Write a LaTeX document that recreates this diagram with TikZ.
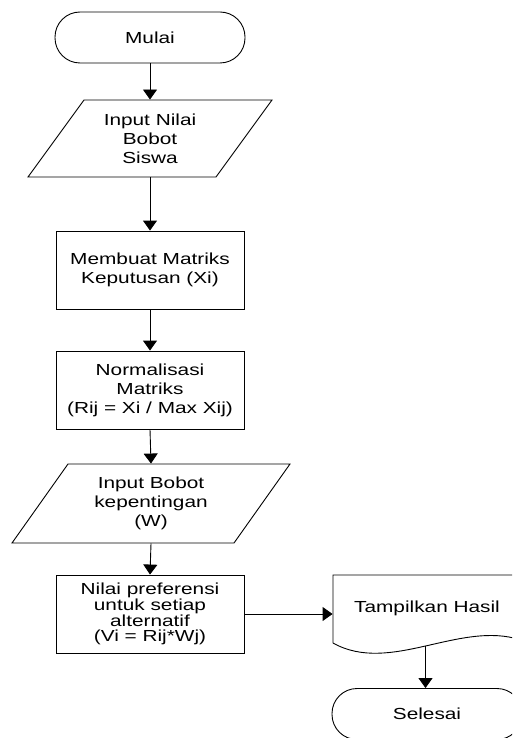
\documentclass[tikz,border=0pt]{standalone}
\usepackage{fontspec}
\setmainfont{Liberation Sans}[FakeStretch=1.3]
\usetikzlibrary{arrows.meta}
\begin{document}
\begin{tikzpicture}[x=1pt,y=-1pt,
  line width=0.9pt,
  txt/.style={align=center,inner sep=0pt,font=\fontsize{16}{19}\selectfont},
  term/.style={txt,draw,rounded corners=25pt,minimum width=190pt,minimum height=51pt},
  procbox/.style={txt,draw,minimum width=188pt,minimum height=78pt},
  ghost/.style={txt},
  arr/.style={-{Triangle[length=10pt,width=14pt]}}]
\useasboundingbox (0,0) rectangle (512,738);
\clip (0,0) rectangle (512,738);

% start
\node[term] (mulai) at (150,37.5) {Mulai};

% input 1 (parallelogram)
\draw (84,100) -- (272,100) -- (216,177) -- (28,177) -- cycle;
\node[ghost,minimum width=188pt,minimum height=77pt] (in1) at (150,138.5) {Input Nilai\\Bobot\\Siswa};

% process 1
\node[procbox] (p1) at (150,270) {Membuat Matriks\\Keputusan (Xi)};

% process 2
\node[procbox] (p2) at (150,390) {Normalisasi\\Matriks\\(Rij = Xi / Max Xij)};

% input 2 (parallelogram)
\draw (68,464) -- (290,464) -- (234,543) -- (12,543) -- cycle;
\node[ghost,minimum width=222pt,minimum height=79pt] (in2) at (151,503.5) {Input Bobot\\kepentingan\\(W)};

% process 3
\node[procbox,font=\fontsize{16}{14.7}\selectfont] (p3) at (150,614) {Nilai preferensi\\untuk setiap\\alternatif\\(Vi = Rij*Wj)};

% document
\draw (333,643) -- (333,575) -- (521,575) -- (521,640)
      .. controls (460,620) and (390,675) .. (333,643) coordinate[pos=0.5] (docb);
\node[ghost,minimum width=188pt,minimum height=68pt] (doc) at (427,609) {\raisebox{4pt}{Tampilkan Hasil}};

% end
\node[term] (selesai) at (427,714) {Selesai};

% connectors
\draw[arr] (mulai.south) -- (in1.north);
\draw[arr] (in1.south) -- (p1.north);
\draw[arr] (p1.south) -- (p2.north);
\draw[arr] (p2.south) -- (in2.north);
\draw[arr] (in2.south) -- (p3.north);
\draw[arr] (p3.east) -- (p3.east -| doc.west);
\draw[arr] (docb) -- (docb |- selesai.north);
\end{tikzpicture}
\end{document}
